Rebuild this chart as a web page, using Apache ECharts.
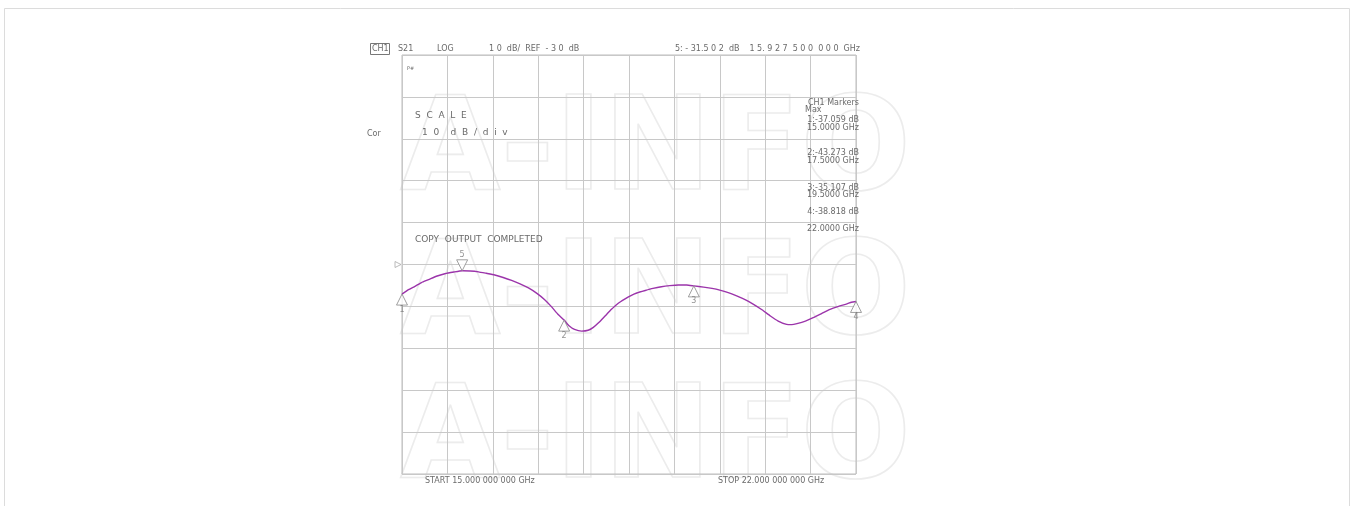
<!DOCTYPE html>
<html>
<head>
<meta charset="utf-8">
<script src="https://cdn.jsdelivr.net/npm/echarts@6/dist/echarts.min.js"></script>
<style>html,body{margin:0;padding:0;background:#fff;}#c{width:1355px;height:506px;}</style>
</head>
<body>
<div id="c"></div>
<script>
var freqGHz = [15.00,15.10,15.20,15.30,15.41,15.53,15.66,15.80,15.93,16.05,16.18,16.30,16.43,16.56,16.69,16.82,16.95,17.08,17.20,17.30,17.40,17.50,17.58,17.66,17.77,17.87,17.95,18.03,18.13,18.23,18.33,18.44,18.53,18.62,18.75,18.87,19.00,19.13,19.26,19.39,19.50,19.65,19.78,19.90,20.03,20.16,20.29,20.42,20.55,20.68,20.80,20.93,21.01,21.09,21.22,21.34,21.47,21.60,21.73,21.86,21.93,22.00];
var s21dB = [-37.06,-36.0,-35.2,-34.3,-33.6,-32.8,-32.2,-31.8,-31.5,-31.55,-31.75,-32.1,-32.5,-33.1,-33.8,-34.6,-35.6,-36.9,-38.4,-40.0,-41.8,-43.27,-44.7,-45.5,-45.9,-45.7,-45.0,-43.9,-42.3,-40.7,-39.3,-38.2,-37.4,-36.8,-36.2,-35.7,-35.3,-35.05,-34.9,-34.9,-35.11,-35.4,-35.7,-36.1,-36.7,-37.5,-38.4,-39.5,-40.8,-42.3,-43.5,-44.3,-44.35,-44.1,-43.5,-42.7,-41.7,-40.7,-40.0,-39.4,-39.0,-38.82];
var markerNames = ['1','2','3','4'];
var markerFreq = [15.0, 17.5, 19.5, 22.0];
var markerDb = [-37.059, -43.273, -35.107, -38.818];
var maxMarkerFreq = 15.9275;
var maxMarkerDb = -31.502;
var refLevel = -30;
var markerTable = ['CH1 Markers','Max','1:-37.059 dB','15.0000 GHz','2:-43.273 dB','17.5000 GHz','3:-35.107 dB','19.5000 GHz','4:-38.818 dB','22.0000 GHz'];

var chart = echarts.init(document.getElementById('c'));
var F = '"DejaVu Sans", sans-serif';
var TC = '#6a6a6a';
function txt(x, y, s, opt) {
  opt = opt || {};
  return {type:'text', x:x, y:y, z:10, silent:true,
    style:{text:s, fill:opt.fill||TC, font:(opt.size||8)+'px '+F, textAlign:opt.align||'left', textVerticalAlign:'middle'}};
}
function wm(y) {
  return {type:'text', x:400, y:y, z:-5, silent:true,
    style:{text:'A-INFO', fill:'rgba(0,0,0,0)', stroke:'#ececec', lineWidth:1.6, font:'bold 130px "DejaVu Sans", sans-serif', textAlign:'left', textVerticalAlign:'top'}};
}
var tableY = [103,110,120,128,153,161,188,195,212,229];
var graphics = [
  {type:'rect', z:-6, shape:{x:4.5,y:8.5,width:1345,height:510}, style:{fill:'none', stroke:'#dcdcdc', lineWidth:1}},
  wm(90), wm(234), wm(378),
  {type:'rect', z:10, shape:{x:370.5,y:43.5,width:19,height:11}, style:{fill:'none', stroke:'#777', lineWidth:1}},
  txt(372, 49, 'CH1'),
  txt(398, 49, 'S21'),
  txt(437, 49, 'LOG'),
  txt(489, 49, '1 0  dB/  REF  - 3 0  dB'),
  txt(675, 49, '5: - 31.5 0 2  dB'),
  txt(860, 49, '1 5. 9 2 7  5 0 0  0 0 0  GHz', {align:'right'}),
  txt(407, 69, 'P#', {size:5}),
  txt(367, 134, 'Cor'),
  txt(415, 116, 'S  C  A  L  E', {size:9}),
  txt(422, 133, '1  0    d  B  /  d  i  v', {size:9}),
  txt(415, 240, 'COPY  OUTPUT  COMPLETED', {size:9}),
  txt(425, 481, 'START 15.000 000 000 GHz'),
  txt(718, 481, 'STOP 22.000 000 000 GHz')
];
for (var i = 0; i < markerTable.length; i++) {
  graphics.push(txt(i === 1 ? 805 : 859, tableY[i], markerTable[i], {align: i === 1 ? 'left' : 'right'}));
}

var markerData = markerFreq.map(function(f, i){ return {value:[f, markerDb[i]], name:markerNames[i]}; });

chart.setOption({
  backgroundColor:'#fff',
  animation:false,
  graphic: graphics,
  grid:{left:402, top:55, width:454, height:419, show:true, borderColor:'#bdbdbd', borderWidth:1, backgroundColor:'transparent'},
  xAxis:[
    {type:'value', min:15, max:22, show:false, splitLine:{show:false}},
    {type:'value', min:0, max:10, interval:1, position:'bottom',
     axisLine:{show:false}, axisTick:{show:false}, axisLabel:{show:false},
     splitLine:{show:true, lineStyle:{color:'#c8c8c8', width:1}}}
  ],
  yAxis:{type:'value', min:-80, max:20, interval:10,
     axisLine:{show:false}, axisTick:{show:false}, axisLabel:{show:false},
     splitLine:{show:true, lineStyle:{color:'#c8c8c8', width:1}}},
  series:[
    {type:'line', xAxisIndex:1, data:[], silent:true},
    {type:'line', xAxisIndex:0, data:freqGHz.map(function(f,i){return [f, s21dB[i]];}),
     symbol:'none', smooth:0.15, lineStyle:{color:'#9b34aa', width:1.4}, z:5, silent:true},
    {type:'scatter', xAxisIndex:0, data:markerData, symbol:'triangle', symbolSize:[11,11], symbolOffset:[0,5.5],
     itemStyle:{color:'#fff', borderColor:'#888', borderWidth:1}, z:6, silent:true,
     label:{show:true, position:'bottom', distance:0, formatter:'{b}', color:'#777', fontSize:8, fontFamily:F}},
    {type:'scatter', xAxisIndex:0, data:[{value:[maxMarkerFreq, maxMarkerDb], name:'5'}], symbol:'triangle', symbolRotate:180,
     symbolSize:[11,11], symbolOffset:[0,-5.5],
     itemStyle:{color:'#fff', borderColor:'#888', borderWidth:1}, z:6, silent:true,
     label:{show:true, position:'top', distance:0, formatter:'{b}', color:'#777', fontSize:8, fontFamily:F}},
    {type:'scatter', xAxisIndex:0, data:[[15, refLevel]], symbol:'triangle', symbolRotate:-90, symbolSize:[6,6], symbolOffset:[-4,0],
     itemStyle:{color:'#fff', borderColor:'#aaa', borderWidth:1}, z:6, silent:true}
  ]
});
</script>
</body>
</html>
